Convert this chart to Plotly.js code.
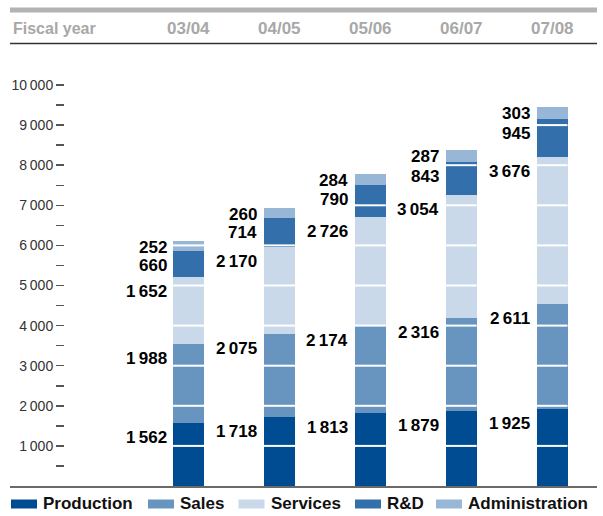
<!DOCTYPE html>
<html>
<head>
<meta charset="utf-8">
<script src="https://cdn.plot.ly/plotly-3.0.1.min.js"></script>
<style>
  html, body { margin: 0; padding: 0; background: #fff; }
  #chart { width: 603px; height: 516px; }
</style>
</head>
<body>
<div id="chart"></div>
<script>
// ---- Data ----
const years = ['03/04', '04/05', '05/06', '06/07', '07/08'];
const seriesNames = ['Production', 'Sales', 'Services', 'R&D', 'Administration'];
const production = [1562, 1718, 1813, 1879, 1925];
const sales = [1988, 2075, 2174, 2316, 2611];
const services = [1652, 2170, 2726, 3054, 3676];
const rnd = [660, 714, 790, 843, 945];
const administration = [252, 260, 284, 287, 303];
const yTickVals = [500, 1000, 1500, 2000, 2500, 3000, 3500, 4000, 4500, 5000,
                   5500, 6000, 6500, 7000, 7500, 8000, 8500, 9000, 9500, 10000];
const headerLabel = 'Fiscal year';

// ---- Styling ----
const colors = ['#004c93', '#6895c0', '#c9d9ea', '#336fab', '#98b6d6'];
const FONT = 'Liberation Sans, Arial, sans-serif';
const W = 603, H = 516;
const M = { l: 10, r: 6, t: 60, b: 30 };
const PW = W - M.l - M.r, PH = H - M.t - M.b;
const px = p => (p - M.l) / PW;            // pixel x -> paper
const py = p => (H - M.b - p) / PH;        // pixel y -> paper
const BARW = 0.341;

function fmt(v) {
  const s = String(v);
  return s.length > 3 ? s.slice(0, s.length - 3) + '\u2009' + s.slice(-3) : s;
}

const seriesVals = [production, sales, services, rnd, administration];

const traces = seriesVals.map((vals, i) => ({
  type: 'bar',
  name: seriesNames[i],
  x: years,
  y: vals,
  width: BARW,
  marker: { color: colors[i], line: { width: 0 } },
  showlegend: false,
  hoverinfo: 'skip'
}));

const annotations = [];
const shapes = [];

// value labels left of the bars
years.forEach((yr, j) => {
  let cum = 0;
  seriesVals.forEach((vals, i) => {
    cum += vals[j];
    annotations.push({
      x: yr, y: cum, xref: 'x', yref: 'y',
      text: fmt(vals[j]), showarrow: false,
      xanchor: 'right', yanchor: 'middle',
      xshift: -20, yshift: i === seriesVals.length - 1 ? -6.5 : -14.5,
      font: { family: FONT, size: 17, color: '#000', weight: 'bold' }
    });
  });
});

// white gridlines over the bars at every 1000
years.forEach((yr, j) => {
  const total = seriesVals.reduce((a, v) => a + v[j], 0);
  yTickVals.filter(v => v % 1000 === 0 && v < total).forEach(v => {
    shapes.push({
      type: 'line', xref: 'x', yref: 'y', layer: 'above',
      x0: j - BARW / 2, x1: j + BARW / 2, y0: v, y1: v,
      line: { color: '#ffffff', width: 2 }
    });
  });
});

// header
shapes.push({
  type: 'rect', xref: 'paper', yref: 'paper', layer: 'above',
  x0: 0, x1: 1, y0: py(12.5), y1: py(7.5),
  fillcolor: '#b3b3b3', line: { width: 0 }
});
shapes.push({
  type: 'line', xref: 'paper', yref: 'paper', layer: 'above',
  x0: 0, x1: 1, y0: py(43.5), y1: py(43.5),
  line: { color: '#333333', width: 1.5 }
});
annotations.push({
  x: px(11), y: py(28), xref: 'paper', yref: 'paper',
  text: headerLabel, showarrow: false, xanchor: 'left', yanchor: 'middle',
  font: { family: FONT, size: 16, color: '#a8a8a8', weight: 'bold' }
});
years.forEach(yr => {
  annotations.push({
    x: yr, y: py(28), xref: 'x', yref: 'paper',
    text: yr, showarrow: false, xanchor: 'center', yanchor: 'middle',
    font: { family: FONT, size: 17, color: '#a8a8a8', weight: 'bold' }
  });
});

// custom legend
const legendSwatchX = [11, 148, 238.5, 355, 436];
seriesNames.forEach((name, i) => {
  const x0 = legendSwatchX[i];
  shapes.push({
    type: 'rect', xref: 'paper', yref: 'paper',
    x0: px(x0), x1: px(x0 + 26), y0: py(508.5), y1: py(499.5),
    fillcolor: colors[i], line: { width: 0 }
  });
  annotations.push({
    x: px(x0 + 30), y: py(503.5), xref: 'paper', yref: 'paper',
    text: name, showarrow: false, xanchor: 'left', yanchor: 'middle',
    font: { family: FONT, size: 17, color: '#111', weight: 'bold' }
  });
});

const layout = {
  width: W, height: H,
  margin: M,
  paper_bgcolor: '#ffffff', plot_bgcolor: '#ffffff',
  barmode: 'stack',
  showlegend: false,
  xaxis: {
    type: 'category',
    range: [-1.966, 4.495],
    showgrid: false, zeroline: false,
    showticklabels: false, ticks: '',
    showline: true, linecolor: '#6a6a6a', linewidth: 2
  },
  yaxis: {
    range: [0, PH / 0.0401],
    anchor: 'free', position: px(64),
    showgrid: false, zeroline: false, showline: false,
    tickmode: 'array',
    tickvals: yTickVals,
    ticktext: yTickVals.map(v => v % 1000 === 0 ? fmt(v) : ''),
    ticks: 'outside', ticklen: 8, tickwidth: 1.5, tickcolor: '#555',
    tickfont: { family: FONT, size: 14, color: '#333' }
  },
  annotations: annotations,
  shapes: shapes
};

Plotly.newPlot('chart', traces, layout, { displayModeBar: false, staticPlot: true });
</script>
</body>
</html>
